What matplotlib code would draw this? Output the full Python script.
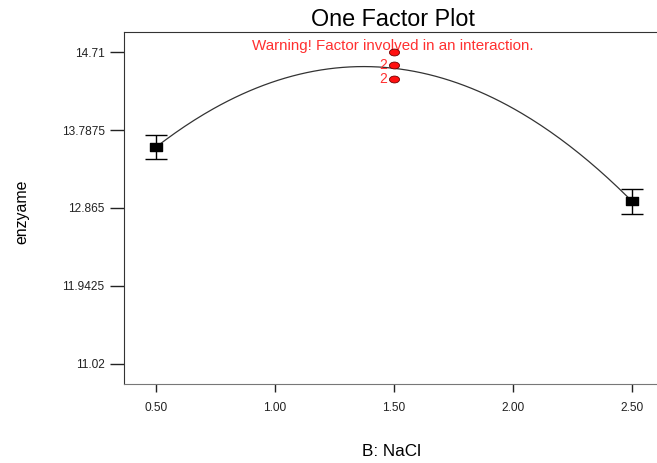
import numpy as np
import matplotlib.pyplot as plt
from matplotlib.markers import MarkerStyle
from matplotlib.transforms import Affine2D

plt.rcParams['font.family'] = ['Liberation Sans', 'DejaVu Sans']

# design points (B: NaCl) and predicted means
nacl = [0.5, 1.5, 2.5]
pred = [13.587, 14.52, 12.947]
# error bars at the factorial points
bar_x = [0.5, 2.5]
bar_y = [13.587, 12.947]
bar_err = [0.146, 0.148]
# center point observations
center_x = [1.5, 1.5, 1.5]
center_y = [14.71, 14.556, 14.397]
center_lbl = ['', '2', '2']

yticks = [11.02, 11.9425, 12.865, 13.7875, 14.71]
yticklabels = ['11.02', '11.9425', '12.865', '13.7875', '14.71']
xticks = [0.5, 1.0, 1.5, 2.0, 2.5]
xticklabels = ['0.50', '1.00', '1.50', '2.00', '2.50']

fig = plt.figure(figsize=(6.57, 4.63), dpi=100)
ax = fig.add_axes([124/657, 79/463, 538/657, 352/463])

# quadratic model curve through the predicted means
coef = np.polyfit(nacl, pred, 2)
xs = np.linspace(min(nacl), max(nacl), 200)
ax.plot(xs, np.polyval(coef, xs), color='#333333', lw=0.9, zorder=2)

sq = MarkerStyle('s', transform=Affine2D().scale(1.7, 1.0))
ax.errorbar(bar_x, bar_y, yerr=bar_err, fmt='none', ecolor='black',
            elinewidth=1, capsize=8, capthick=1, zorder=3)
ax.scatter(bar_x, bar_y, marker=sq, s=26, color='black', zorder=4)

ell = MarkerStyle('o', transform=Affine2D().scale(1.25, 0.85))
ax.scatter(center_x, center_y, marker=ell, s=34, facecolor='#ff1010',
           edgecolor='#700000', linewidth=0.6, zorder=5)
for x, y, t in zip(center_x, center_y, center_lbl):
    if t:
        ax.text(x - 0.03, y, t, color='#ff3030', fontsize=10,
                ha='right', va='center', zorder=6)

ax.set_xlim(0.365, 2.627)
ax.set_ylim(10.78, 14.95)
ax.set_xticks(xticks)
ax.set_xticklabels(xticklabels)
ax.set_yticks(yticks)
ax.set_yticklabels(yticklabels)
ax.tick_params(axis='y', length=10, width=1, pad=4, labelsize=8.6, colors='#222222')
ax.tick_params(axis='x', length=6, width=1, pad=7, labelsize=8.6, colors='#222222')

ax.spines['right'].set_visible(False)
for s in ['left', 'top']:
    ax.spines[s].set_color('#333333')
ax.spines['bottom'].set_color('#777777')

ax.set_title('One Factor Plot', fontsize=16.8, pad=4)
ax.text(0.5, 0.98, 'Warning! Factor involved in an interaction.',
        transform=ax.transAxes, color='#ff3030', fontsize=10.9,
        ha='center', va='top')

fig.text(392/657, 1 - 452/463, 'B: NaCl', fontsize=12.3, ha='center', va='center')
fig.text(22/657, 1 - 212/463, 'enzyame', fontsize=11.4, rotation=90,
         ha='center', va='center')

fig.savefig('out.png', dpi=100)
